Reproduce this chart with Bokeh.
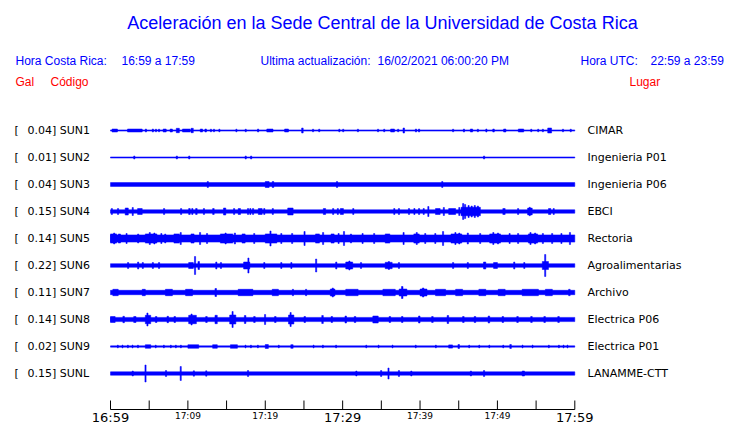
from bokeh.plotting import figure
from bokeh.models import Range1d, ColumnDataSource
from bokeh.core.properties import value
from bokeh.embed import file_html
from bokeh.resources import INLINE

# ---------------- data ----------------
STATIONS = ["SUN1", "SUN2", "SUN3", "SUN4", "SUN5", "SUN6", "SUN7", "SUN8", "SUN9", "SUNL"]
PLACES = ["CIMAR", "Ingenieria P01", "Ingenieria P06", "EBCI", "Rectoria",
          "Agroalimentarias", "Archivo", "Electrica P06", "Electrica P01", "LANAMME-CTT"]
PEAK_GAL = [0.04, 0.01, 0.04, 0.15, 0.14, 0.22, 0.11, 0.14, 0.02, 0.15]
# background trace half-amplitude (display units)
BASE_HALF = [0.6, 0.55, 1.9, 1.7, 3.6, 1.8, 2.2, 2.1, 0.65, 1.7]

# bursts: (start minute, end minute, half amplitude)
BURSTS_SUN1 = [(0.2, 0.9, 1.5), (2.2, 4.1, 1.5), (4.5, 4.65, 1.5), (5.4, 5.55, 1.5), (5.8, 5.95, 1.3),
               (6.2, 6.35, 1.3), (6.8, 7.2, 1.5), (7.7, 8.0, 1.5), (8.5, 8.9, 2.2), (9.3, 10.3, 1.5),
               (10.4, 10.7, 2.2), (11.6, 11.9, 1.5), (12.2, 12.4, 1.5), (12.9, 13.05, 1.3), (13.3, 13.45, 1.3),
               (14.0, 14.15, 1.3), (16.2, 16.35, 1.3), (17.4, 17.55, 1.3), (19.0, 19.15, 1.5), (20.2, 21.0, 1.5),
               (22.5, 23.0, 1.5), (24.7, 24.9, 2.5), (26.1, 26.25, 1.3), (26.9, 27.05, 1.3), (29.5, 29.65, 1.3),
               (30.0, 30.15, 1.3), (31.9, 32.05, 1.3), (34.5, 34.65, 1.3), (35.3, 35.45, 1.3), (36.2, 36.7, 1.5),
               (37.1, 37.25, 1.3), (37.8, 38.0, 2.5), (39.4, 39.55, 1.5), (39.8, 39.95, 1.5), (44.2, 44.35, 1.3),
               (45.6, 45.75, 1.5), (46.5, 46.8, 1.5), (47.4, 47.55, 1.3), (48.5, 48.65, 1.5), (49.4, 49.6, 1.5),
               (50.8, 51.1, 1.5), (52.7, 53.4, 1.5), (54.3, 54.45, 1.3), (55.2, 55.35, 1.3), (55.8, 55.95, 1.3),
               (56.5, 57.0, 2.5), (58.4, 58.55, 1.3), (59.4, 59.55, 1.3)]
BURSTS_SUN2 = [(3.0, 3.15, 1.5), (8.5, 8.65, 1.5), (10.1, 10.25, 1.5), (17.4, 17.55, 1.5),
               (18.1, 18.25, 1.5), (48.2, 48.35, 1.5)]
BURSTS_SUN3 = [(12.5, 12.65, 3), (20.0, 20.5, 3), (20.9, 21.1, 3), (29.2, 29.35, 3), (42.8, 42.95, 3)]
BURSTS_SUN4 = [(0.1, 0.25, 3), (0.9, 1.05, 3), (1.9, 2.3, 3.5), (2.8, 2.95, 4), (3.5, 4.1, 3), (6.85, 7.0, 3),
               (9.05, 9.2, 3), (10.1, 10.3, 3), (10.5, 10.65, 3), (11.0, 11.2, 3), (12.0, 12.15, 3),
               (13.2, 13.4, 3), (14.6, 14.9, 3.5), (15.9, 16.05, 3), (16.5, 16.8, 3), (17.7, 17.85, 3),
               (18.0, 18.15, 3), (18.35, 18.5, 3), (19.1, 19.6, 3), (19.8, 19.95, 3), (20.9, 21.05, 3),
               (22.9, 23.6, 3.5), (27.5, 27.8, 3), (28.7, 28.85, 3), (29.3, 29.45, 3), (29.7, 30.1, 3),
               (31.3, 31.45, 3), (36.6, 36.75, 3), (37.2, 37.35, 3), (38.5, 38.65, 3), (39.2, 39.35, 3),
               (39.8, 39.95, 3), (40.4, 40.55, 3), (41.0, 41.15, 5), (42.0, 42.6, 3), (43.0, 43.15, 4),
               (43.7, 44.6, 3), (45.0, 45.15, 4), (45.3, 47.8, 4.2), (45.5, 45.65, 8), (45.75, 45.9, 7),
               (46.2, 46.35, 6), (46.6, 46.75, 5.5), (47.0, 47.15, 6), (47.4, 47.55, 5.5),
               (50.7, 51.0, 3), (52.6, 52.75, 3), (53.9, 54.5, 3.4), (54.1, 54.25, 4.2), (56.6, 56.9, 3),
               (57.2, 57.35, 3)]
BURSTS_SUN5 = [(0.0, 0.8, 4.6), (0.4, 0.55, 5.5), (1.0, 1.3, 4.5), (2.0, 2.15, 5), (3.5, 3.65, 4.5),
               (4.5, 6.0, 4.6), (5.0, 5.15, 6), (5.6, 5.75, 5.5), (6.5, 6.65, 5), (7.0, 7.15, 4.5),
               (8.2, 8.9, 4.6), (9.0, 9.15, 6), (10.4, 10.8, 4.6), (11.5, 11.65, 6), (12.4, 12.55, 5),
               (14.2, 15.8, 4.6), (14.8, 14.95, 5.5), (16.0, 16.15, 5.5), (17.0, 17.4, 4.6), (18.5, 18.65, 5),
               (20.0, 21.5, 4.6), (20.6, 20.75, 7.5), (22.0, 22.15, 5), (23.4, 23.55, 5), (25.0, 25.15, 7),
               (26.5, 27.0, 4.6), (27.4, 27.55, 6), (28.5, 28.9, 4.6), (29.4, 29.55, 5), (30.1, 30.25, 7),
               (31.0, 31.15, 4.5), (32.5, 32.65, 5), (34.0, 34.15, 5), (35.5, 36.1, 4.6), (37.8, 37.95, 6),
               (39.2, 39.9, 4.6), (39.5, 39.65, 6), (40.6, 40.75, 5), (41.9, 42.05, 5), (42.9, 43.05, 7),
               (44.0, 45.4, 4.6), (44.5, 44.65, 6), (45.0, 45.15, 5.5), (46.1, 46.25, 5.5), (47.7, 47.85, 5),
               (49.0, 50.4, 4.6), (49.4, 49.55, 6), (50.0, 50.15, 5.5), (51.5, 51.65, 5), (52.6, 52.75, 5),
               (54.0, 55.2, 4.6), (54.2, 54.35, 6), (54.8, 54.95, 5.5), (55.8, 55.95, 5), (57.0, 57.15, 5),
               (58.2, 58.35, 5), (59.3, 59.45, 6)]
BURSTS_SUN6 = [(2.2, 2.35, 3), (3.5, 3.65, 3.5), (4.1, 4.25, 3), (5.4, 5.55, 3), (6.2, 6.35, 3),
               (10.1, 10.7, 3), (10.85, 11.0, 9), (11.3, 11.5, 4), (13.6, 13.75, 3.5), (14.2, 14.35, 3),
               (17.2, 18.0, 3.5), (17.75, 17.9, 7.5), (19.8, 19.95, 3), (22.0, 22.15, 3), (23.3, 23.45, 3),
               (26.5, 26.65, 6.5), (29.1, 29.25, 3.5), (30.4, 31.3, 3.5), (30.8, 30.95, 4.5), (32.3, 32.45, 3),
               (35.5, 36.4, 3.2), (35.9, 36.05, 4), (37.2, 37.35, 3), (44.2, 44.35, 3), (46.1, 46.25, 3),
               (48.2, 48.5, 3.5), (49.5, 50.0, 3), (52.1, 52.25, 3.5), (53.4, 53.55, 3), (55.8, 56.6, 4),
               (56.1, 56.25, 11)]
BURSTS_SUN7 = [(0.3, 1.0, 3.2), (4.1, 4.5, 3.2), (7.1, 8.0, 3.2), (9.7, 10.6, 3.2), (13.5, 13.7, 4),
               (16.5, 18.4, 3.2), (20.9, 21.7, 3.2), (23.5, 23.65, 3.2), (25.2, 25.35, 3.2), (28.4, 29.0, 3.5),
               (28.65, 28.8, 4.5), (30.4, 32.0, 3.2), (35.2, 36.8, 3.2), (37.3, 38.3, 3.5), (37.6, 37.8, 6),
               (40.0, 40.9, 3.5), (40.3, 40.5, 4.5), (42.0, 43.3, 3.2), (44.6, 45.5, 3.2), (47.6, 48.5, 3.2),
               (50.1, 51.0, 3.2), (53.2, 55.3, 3.2), (56.2, 57.1, 3.2), (59.2, 59.4, 3.2)]
BURSTS_SUN8 = [(0.0, 0.6, 3), (1.6, 1.8, 3.2), (3.0, 3.3, 3), (4.5, 5.2, 4.2), (4.7, 4.85, 6.5), (5.8, 6.0, 3),
               (7.3, 7.5, 3.2), (8.2, 8.4, 3), (10.1, 11.1, 4.2), (10.4, 10.55, 5.5), (12.3, 12.5, 3),
               (13.5, 13.8, 4.2), (15.4, 16.2, 4.5), (15.7, 15.85, 8), (17.3, 17.5, 4), (18.5, 18.7, 3),
               (19.9, 20.05, 5), (21.2, 21.4, 3), (23.0, 23.7, 4.5), (23.2, 23.35, 7), (25.0, 25.2, 3),
               (27.3, 27.5, 4), (28.5, 28.7, 3), (30.3, 30.5, 3.5), (31.5, 31.7, 3), (33.9, 34.6, 3.5),
               (36.0, 36.2, 3), (37.6, 37.8, 3), (39.8, 40.0, 3.5), (41.5, 41.7, 3), (43.5, 43.7, 4),
               (45.5, 45.7, 3), (47.0, 47.2, 3), (48.8, 49.0, 3.5), (50.6, 50.8, 3), (52.5, 52.7, 3),
               (54.3, 54.5, 3), (56.0, 56.2, 3), (57.8, 58.0, 3)]
BURSTS_SUN9 = [(0.9, 1.0, 1.5), (1.5, 1.6, 1.5), (2.2, 2.3, 1.5), (2.8, 2.9, 1.5), (3.5, 3.6, 1.5),
               (4.5, 5.2, 1.8), (5.8, 5.9, 1.5), (6.85, 6.95, 1.5), (7.75, 7.85, 1.5), (8.4, 8.5, 1.5),
               (9.05, 9.15, 1.5), (10.0, 11.4, 1.8), (13.2, 13.8, 1.8), (15.5, 16.4, 1.8), (17.4, 17.5, 1.5),
               (18.1, 18.2, 1.5), (19.0, 19.1, 1.5), (20.0, 20.4, 2), (21.7, 21.8, 1.5), (23.3, 23.6, 1.8),
               (26.2, 26.3, 1.5), (27.4, 27.5, 1.5), (29.1, 29.2, 1.5), (33.0, 33.1, 1.5), (34.6, 34.7, 1.5),
               (36.4, 36.5, 1.5), (39.4, 39.5, 1.5), (42.0, 42.1, 1.5), (43.7, 44.2, 1.6), (44.9, 45.1, 2),
               (46.3, 46.4, 1.5), (47.6, 47.7, 1.5), (48.9, 49.0, 1.5), (50.7, 50.8, 1.5), (51.6, 51.8, 2),
               (53.2, 53.3, 1.5), (54.5, 54.6, 1.5), (56.6, 56.7, 1.5), (57.9, 58.0, 1.5), (58.5, 58.6, 1.5),
               (59.0, 59.1, 1.5)]
BURSTS_SUNL = [(2.8, 2.95, 2.5), (4.45, 4.6, 8.5), (7.1, 7.25, 3), (9.0, 9.15, 7), (10.7, 10.85, 2.7),
               (12.3, 12.45, 2.7), (17.7, 17.85, 3), (31.7, 31.85, 2.5), (34.9, 35.05, 3), (35.85, 36.0, 5.5),
               (37.2, 37.35, 3), (38.8, 38.95, 2.5), (46.5, 46.65, 2.5), (48.2, 48.35, 3), (53.2, 53.5, 2.5)]
BURSTS = [BURSTS_SUN1, BURSTS_SUN2, BURSTS_SUN3, BURSTS_SUN4, BURSTS_SUN5,
          BURSTS_SUN6, BURSTS_SUN7, BURSTS_SUN8, BURSTS_SUN9, BURSTS_SUNL]

WINDOW_MIN = 60
TICK_MINUTES = [0, 5, 10, 15, 20, 25, 30, 35, 40, 45, 50, 55, 60]
TICK_LABELS = {0: "16:59", 10: "17:09", 20: "17:19", 30: "17:29", 40: "17:39", 50: "17:49", 60: "17:59"}
BIG_LABELS = [0, 30, 60]

TITLE = "Aceleración en la Sede Central de la Universidad de Costa Rica"

# ---------------- layout ----------------
W, H = 740, 423
PX_PER_MIN = 464.3 / 60.0
X0_PX = 110.0          # window px of minute 0
ROW = 27.0             # spacing between traces
Y0_PX = 130.0          # window px of first trace

xs = -X0_PX / PX_PER_MIN
xe = xs + W / PX_PER_MIN
ys_top = -Y0_PX
ys_bot = ys_top + H

def tx(px):
    return (px - X0_PX) / PX_PER_MIN

def ty(py):
    return py - Y0_PX

p = figure(width=W, height=H, output_backend="svg", toolbar_location=None,
           x_range=Range1d(xs, xe), y_range=Range1d(ys_bot, ys_top),
           min_border=0, x_axis_type=None, y_axis_type=None)
p.outline_line_color = None
p.xgrid.visible = False
p.ygrid.visible = False
p.background_fill_color = "white"
p.border_fill_color = "white"

BLUE = "#0000ff"
RED = "#ff0000"

# traces
L, R, B, T = [], [], [], []
for i in range(len(STATIONS)):
    c = i * ROW
    h = BASE_HALF[i]
    L.append(0); R.append(WINDOW_MIN); B.append(c - h); T.append(c + h)
    for (t0, t1, a) in BURSTS[i]:
        L.append(t0); R.append(t1); B.append(c - a); T.append(c + a)
src = ColumnDataSource(dict(left=L, right=R, bottom=B, top=T))
p.quad(left="left", right="right", bottom="bottom", top="top", source=src,
       fill_color=BLUE, line_color=BLUE, line_width=0.5)

# labels per trace
ycent = [i * ROW for i in range(len(STATIONS))]
lab_src = ColumnDataSource(dict(
    y=ycent,
    br=["["] * len(STATIONS),
    left=["%.2f] %s" % (g, s) for g, s in zip(PEAK_GAL, STATIONS)],
    place=PLACES,
))
FONT_LAB = value("DejaVu Sans")
p.text(x=tx(14), y="y", text="br", source=lab_src, text_font=FONT_LAB, text_font_size=value("11px"),
       text_color="black", text_baseline="middle", text_align="left")
p.text(x=tx(27), y="y", text="left", source=lab_src, text_font=FONT_LAB, text_font_size=value("11px"),
       text_color="black", text_baseline="middle", text_align="left")
p.text(x=tx(587), y="y", text="place", source=lab_src, text_font=FONT_LAB, text_font_size=value("11px"),
       text_color="black", text_baseline="middle", text_align="left")

# time axis
axis_y = ty(409)
p.segment(x0=[0], y0=[axis_y], x1=[WINDOW_MIN], y1=[axis_y], line_color="black", line_width=1)
p.segment(x0=TICK_MINUTES, y0=[axis_y] * len(TICK_MINUTES), x1=TICK_MINUTES,
          y1=[axis_y - 9] * len(TICK_MINUTES), line_color="black", line_width=1)
big = [m for m in TICK_LABELS if m in BIG_LABELS]
small = [m for m in TICK_LABELS if m not in BIG_LABELS]
p.text(x=big, y=[ty(416.5)] * len(big), text=[TICK_LABELS[m] for m in big], text_font=FONT_LAB,
       text_font_size=value("13px"), text_align="center", text_baseline="middle", text_color="black")
p.text(x=small, y=[ty(415.5)] * len(small), text=[TICK_LABELS[m] for m in small], text_font=FONT_LAB,
       text_font_size=value("9px"), text_align="center", text_baseline="middle", text_color="black")

# header texts
HF = value("Liberation Sans")
def txt(px, py, s, size, color, align="left"):
    p.text(x=[tx(px)], y=[ty(py)], text=[s], text_font=HF, text_font_size=value(size),
           text_color=color, text_align=align, text_baseline="middle")

txt(382, 22, TITLE, "18px", BLUE, "center")
txt(15, 60, "Hora Costa Rica:", "12px", BLUE)
txt(121, 60, "16:59 a 17:59", "12px", BLUE)
txt(260, 60, "Ultima actualización:", "12px", BLUE)
txt(377, 60, "16/02/2021 06:00:20 PM", "12px", BLUE)
txt(580, 60, "Hora UTC:", "12px", BLUE)
txt(650, 60, "22:59 a 23:59", "12px", BLUE)
txt(15, 81, "Gal", "12px", RED)
txt(50, 81, "Código", "12px", RED)
txt(629, 81, "Lugar", "12px", RED)

open("out.html", "w").write(file_html(p, INLINE))
